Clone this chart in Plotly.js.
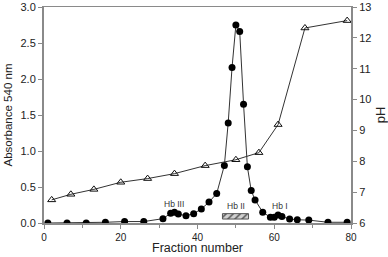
<!DOCTYPE html>
<html><head><meta charset="utf-8">
<script src="https://cdn.plot.ly/plotly-3.0.1.min.js"></script>
<style>html,body{margin:0;padding:0;background:#fff}#c{width:388px;height:257px}</style>
</head><body><div id="c"></div>
<script>
const absFraction = [1,6,11,16,21,26,31,33,34,35,37,39,41,43,45,47,48,49,50,51,52,53,54,55,57,59,60,61,62,64,66,69,74,79];
const absValues   = [0,0,0,0.01,0.02,0.02,0.06,0.135,0.15,0.125,0.1,0.13,0.195,0.29,0.41,0.8,1.39,2.16,2.75,2.66,1.65,0.78,0.45,0.32,0.15,0.08,0.08,0.11,0.09,0.055,0.045,0.04,0.01,0.01];
const phFraction  = [2,7,13,20,27,34,42,50,56,61,68,79];
const phValues    = [6.75,6.93,7.09,7.32,7.44,7.6,7.86,8.05,8.28,9.19,12.32,12.56];
const peakLabels  = ['Hb III','Hb II','Hb I'];
const peakLabelX  = [34,50,61.5];
const peakLabelY  = [0.27,0.24,0.24];
const poolX = [49.9], poolWidth = [6.8], poolBase = [0.055], poolHeight = [0.075];

const font = {family:'"Liberation Sans", Arial, sans-serif', color:'#222'};
const data = [
  {x:poolX, y:poolHeight, base:poolBase, width:poolWidth, type:'bar', yaxis:'y',
   marker:{color:'#d0d0d0', line:{color:'#555', width:1}, pattern:{shape:'/', fgcolor:'#555', bgcolor:'#d0d0d0', size:5, solidity:0.3}},
   hoverinfo:'skip', showlegend:false},
  {x:phFraction, y:phValues, yaxis:'y2', mode:'lines+markers', type:'scatter',
   line:{color:'#333', width:1},
   marker:{symbol:'triangle-up-open', size:7, color:'#111', line:{width:1}}, showlegend:false},
  {x:absFraction, y:absValues, yaxis:'y', mode:'lines+markers', type:'scatter',
   line:{color:'#333', width:1},
   marker:{symbol:'circle', size:7, color:'#000'}, showlegend:false}
];
const axLine = '#8a8a8a';
const annots = peakLabels.map((t,i)=>({x:peakLabelX[i], y:peakLabelY[i], xref:'x', yref:'y', text:t, showarrow:false,
    font:{family:font.family, size:8.5, color:'#333'}}));
annots.push({x:0.5, y:-0.072, xref:'paper', yref:'paper', xanchor:'center', yanchor:'top',
  text:'Fraction number', showarrow:false, font:Object.assign({size:12.5}, font)});
const layout = {
  width:388, height:257,
  margin:{l:44, r:37, t:7, b:34},
  paper_bgcolor:'#fff', plot_bgcolor:'#fff',
  font:Object.assign({size:11}, font),
  xaxis:{range:[0,80], dtick:20, tick0:0, ticks:'outside', ticklen:4, tickcolor:axLine,
    minor:{dtick:10, ticks:'outside', ticklen:3, tickcolor:axLine},
    showline:true, linecolor:axLine, linewidth:1.5, mirror:true, showgrid:false, zeroline:false,
    tickfont:Object.assign({size:10}, font)},
  yaxis:{range:[0,3], dtick:0.5, tickformat:'.1f', ticks:'outside', ticklen:4, tickcolor:axLine,
    showline:true, linecolor:axLine, linewidth:2, showgrid:false, zeroline:false,
    tickfont:Object.assign({size:11}, font),
    title:{text:'Absorbance 540 nm', font:Object.assign({size:11.5}, font), standoff:5}},
  yaxis2:{range:[6,13], dtick:1, overlaying:'y', side:'right', ticks:'outside', ticklen:4, tickcolor:axLine,
    showline:true, linecolor:axLine, linewidth:2, showgrid:false, zeroline:false,
    tickfont:Object.assign({size:11}, font),
    title:{text:'pH', font:Object.assign({size:13}, font), standoff:6}},
  bargap:0,
  annotations: annots
};
Plotly.newPlot('c', data, layout, {displayModeBar:false, staticPlot:true});
</script></body></html>
